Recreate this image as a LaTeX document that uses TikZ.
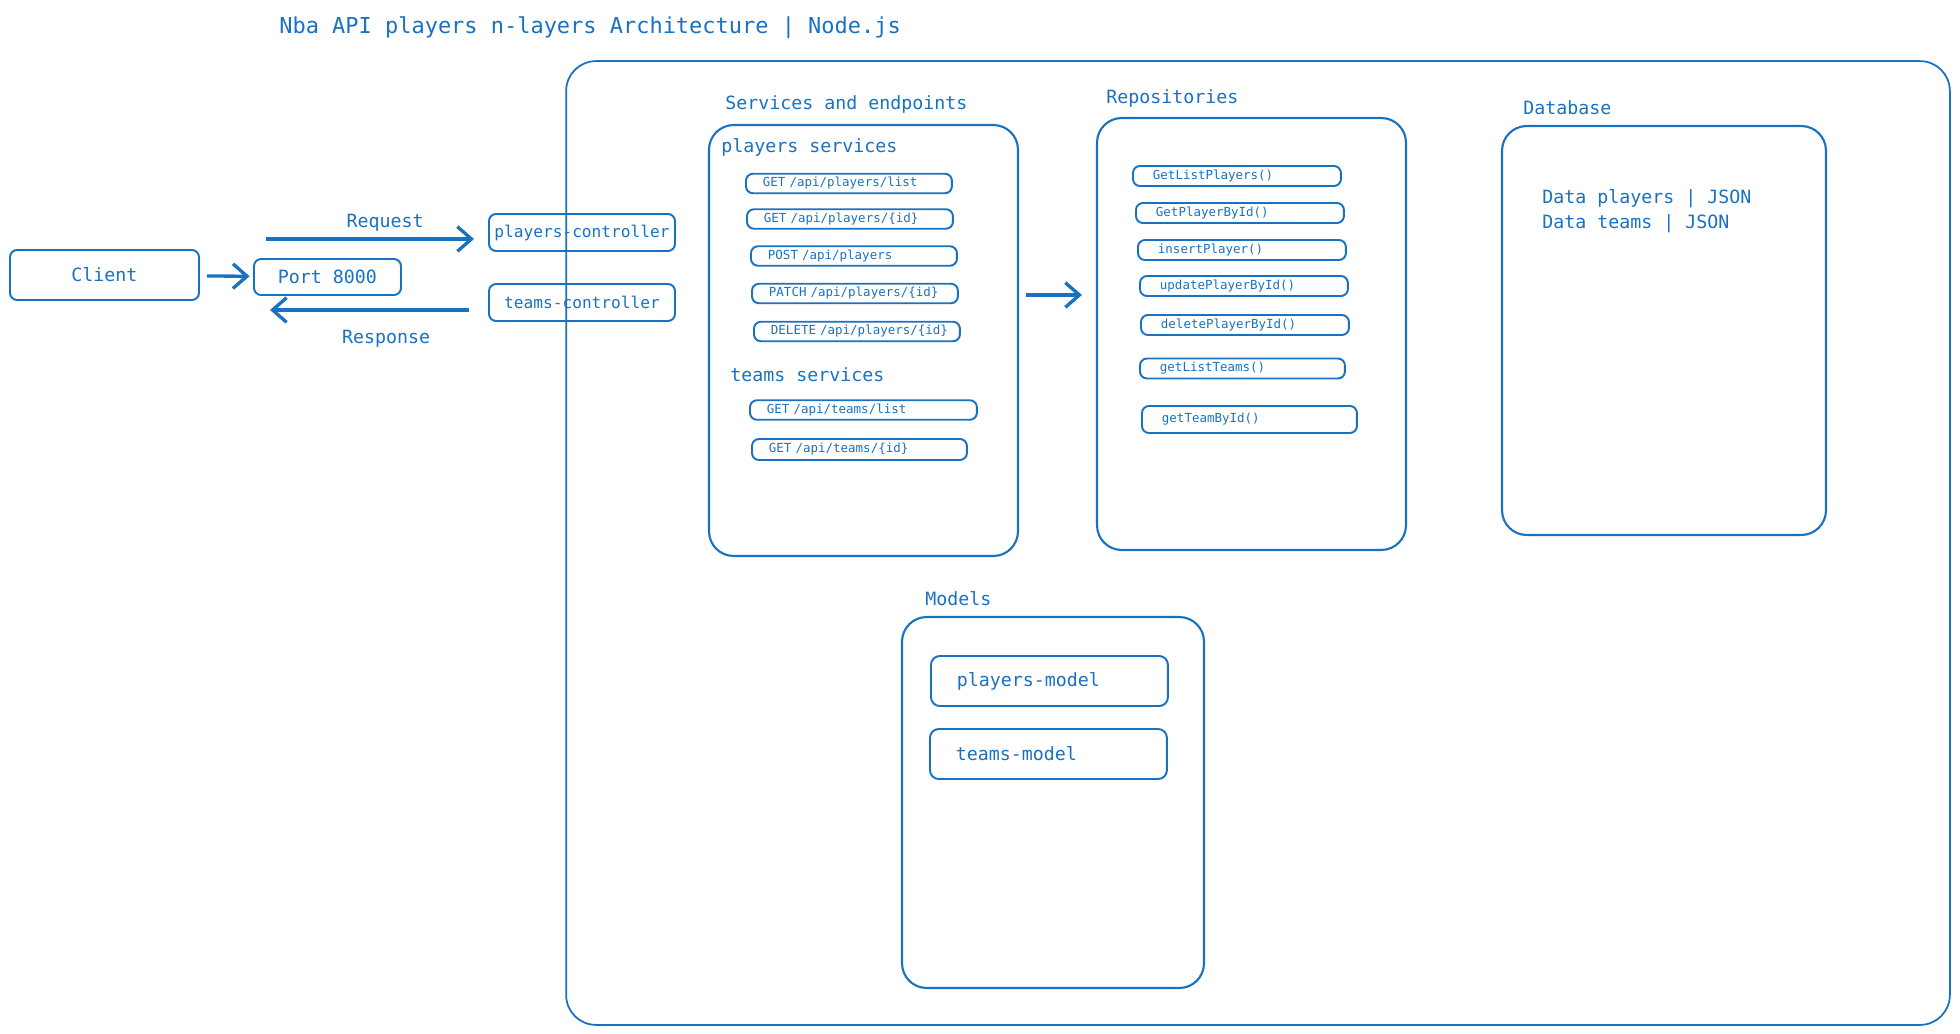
\documentclass[tikz,border=0pt]{standalone}
\usepackage{fontspec}
\setmainfont{DejaVu Sans Mono}
\usepackage{tikz}
\usetikzlibrary{arrows.meta,positioning}
\definecolor{exblue}{HTML}{1971C2}

\begin{document}
\begin{tikzpicture}[x=0.02cm,y=-0.02cm,
  every node/.style={text=exblue},
  lbl/.style={anchor=west,inner sep=0pt,yshift=-1.5pt,font=\fontsize{10.4}{12}\selectfont},
  box/.style={draw=exblue,line width=1.1pt,rounded corners=4pt,inner sep=0pt,font=\fontsize{10.4}{12}\selectfont},
  layer/.style={draw=exblue,line width=1.2pt,rounded corners=14pt,inner sep=0pt},
  endpoint/.style={box,anchor=west,minimum height=0.39cm,inner xsep=0.1cm,text width=3.92cm,align=left,
    execute at begin node={\hspace*{0.24cm}},font=\fontsize{7.1}{8}\selectfont},
  repo/.style={box,anchor=west,minimum height=0.4cm,inner xsep=0.4cm,text width=3.36cm,align=left,font=\fontsize{7.1}{8}\selectfont},
  model/.style={box,anchor=west,rounded corners=5pt,minimum height=1cm,inner xsep=0.52cm,text width=3.7cm,align=left},
  flow/.style={draw=exblue,line width=1.9pt,-{Straight Barb[length=8pt,width=14pt]}}]

\useasboundingbox (0,0) rectangle (1960,1034);

\path (279,25) node[lbl,font=\fontsize{12.5}{14}\selectfont] (title) {Nba API players n-layers Architecture | Node.js};

\path (104.5,275) node[box,minimum width=3.78cm,minimum height=1cm] (client) {Client};
\path (327.5,277) node[box,minimum width=2.94cm,minimum height=0.72cm] (port) {Port 8000};
\path (582,232.5) node[box,minimum width=3.72cm,minimum height=0.74cm,font=\fontsize{9.2}{11}\selectfont] (pctrl) {players-controller};
\path (582,302.5) node[box,minimum width=3.72cm,minimum height=0.74cm,font=\fontsize{9.2}{11}\selectfont] (tctrl) {teams-controller};

\path (1258,543) node[layer,rounded corners=17pt,line width=1pt,minimum width=27.68cm,minimum height=19.28cm] (app) {};

\path (863.5,340.5) node[layer,minimum width=6.18cm,minimum height=8.62cm] (services) {};
\path (725,102) node[lbl] (serviceslbl) {Services and endpoints};
\path (721,145) node[lbl] (plabel) {players services};
\path (745,183.5) node[endpoint,text width=3.92cm] (E1) {GET /api/players/list};
\path (746,219) node[endpoint] (E2) {GET /api/players/\{id\}};
\path (750,256) node[endpoint] (E3) {POST /api/players};
\path (751,293.5) node[endpoint] (E4) {PATCH /api/players/\{id\}};
\path (753,331.5) node[endpoint] (E5) {DELETE /api/players/\{id\}};
\path (730,372) node[lbl] (tlabel) {teams services};
\path (749,410) node[endpoint,text width=4.34cm] (E6) {GET /api/teams/list};
\path (751,449.5) node[endpoint,text width=4.1cm,minimum height=0.42cm] (E7) {GET /api/teams/\{id\}};

\path (1251.5,334) node[layer,minimum width=6.18cm,minimum height=8.64cm] (repos) {};
\path (1106,96) node[lbl] (reposlbl) {Repositories};
\path (1132,176) node[repo] (R1) {GetListPlayers()};
\path (1135,213) node[repo] (R2) {GetPlayerById()};
\path (1137,250) node[repo] (R3) {insertPlayer()};
\path (1139,286) node[repo] (R4) {updatePlayerById()};
\path (1140,325) node[repo] (R5) {deletePlayerById()};
\path (1139,368.5) node[repo,text width=3.3cm] (R6) {getListTeams()};
\path (1141,419.5) node[repo,text width=3.5cm,minimum height=0.54cm] (R7) {getTeamById()};

\path (1664,330.5) node[layer,minimum width=6.48cm,minimum height=8.18cm] (db) {};
\path (1523,105) node[lbl] (dblbl) {Database};
\path (1542,208.5) node[lbl,align=left,font=\fontsize{10.4}{14.2}\selectfont] (dbdata) {Data players | JSON\\Data teams | JSON};

\path (1053,802.5) node[layer,minimum width=6.04cm,minimum height=7.42cm] (models) {};
\path (925,596) node[lbl] (modelslbl) {Models};
\path (930,681) node[model] (M1) {players-model};
\path (929,754) node[model] (M2) {teams-model};

\coordinate (reqtail) at (266,239);
\coordinate (restail) at (270,310);
\coordinate (callrow) at (0,295);

\draw[flow,shorten <=4pt,shorten >=2pt] (client) -- (port);
\draw[flow,shorten >=8pt] (reqtail) -- (reqtail -| pctrl.west);
\draw[flow,shorten <=11pt] (restail -| tctrl.west) -- (restail);
\draw[flow,shorten <=4pt,shorten >=8pt] (services.east |- callrow) -- (repos.west |- callrow);

\path (385,220) node[yshift=-1.5pt,font=\fontsize{10.4}{12}\selectfont] (reqlbl) {Request};
\path (386,336) node[yshift=-1.5pt,font=\fontsize{10.4}{12}\selectfont] (reslbl) {Response};

\end{tikzpicture}
\end{document}
